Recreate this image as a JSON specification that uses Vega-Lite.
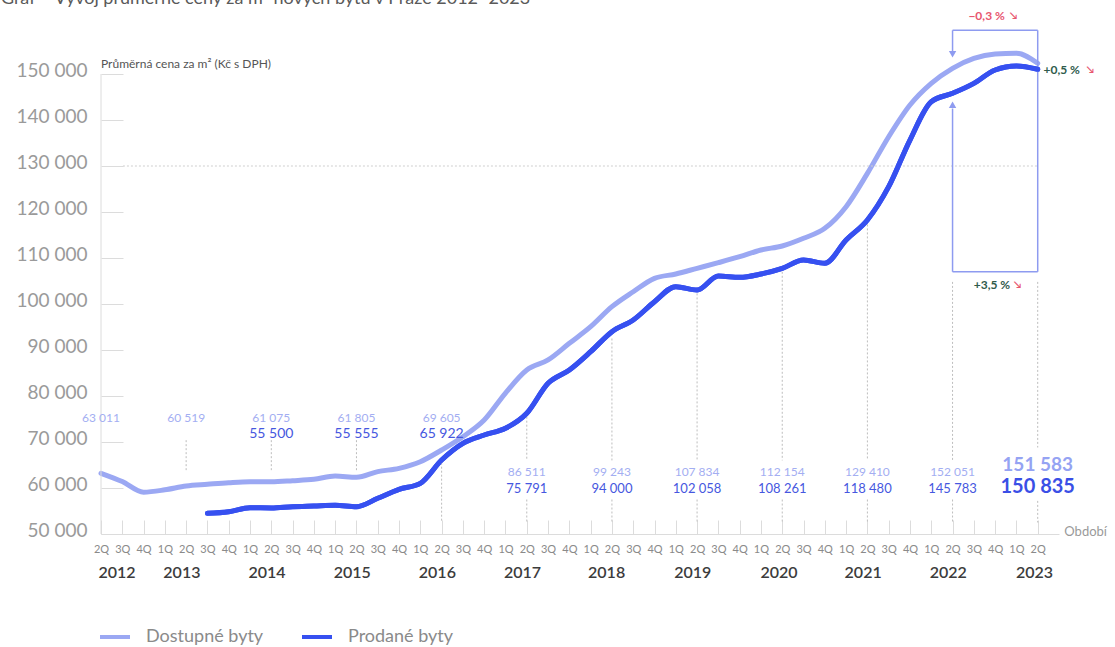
{
  "$schema": "https://vega.github.io/schema/vega-lite/v6.json",
  "width": 958,
  "height": 506,
  "autosize": {"type": "none"},
  "padding": {"left": 101, "top": 28, "right": 56, "bottom": 113},
  "background": "white",
  "config": {"view": {"stroke": null}, "font": "Lato", "axis": {"labelOverlap": false, "labelSeparation": 0}},
  "datasets": {
    "prices": [
      {"i": 0, "series": "Dostupné byty", "value": 63200},
      {"i": 1, "series": "Dostupné byty", "value": 61400},
      {"i": 2, "series": "Dostupné byty", "value": 59100},
      {"i": 3, "series": "Dostupné byty", "value": 59600},
      {"i": 4, "series": "Dostupné byty", "value": 60430},
      {"i": 5, "series": "Dostupné byty", "value": 60800},
      {"i": 6, "series": "Dostupné byty", "value": 61150},
      {"i": 7, "series": "Dostupné byty", "value": 61370},
      {"i": 8, "series": "Dostupné byty", "value": 61370},
      {"i": 9, "series": "Dostupné byty", "value": 61590},
      {"i": 10, "series": "Dostupné byty", "value": 61890},
      {"i": 11, "series": "Dostupné byty", "value": 62600},
      {"i": 12, "series": "Dostupné byty", "value": 62330},
      {"i": 13, "series": "Dostupné byty", "value": 63550},
      {"i": 14, "series": "Dostupné byty", "value": 64280},
      {"i": 15, "series": "Dostupné byty", "value": 65720},
      {"i": 16, "series": "Dostupné byty", "value": 68260},
      {"i": 17, "series": "Dostupné byty", "value": 71150},
      {"i": 18, "series": "Dostupné byty", "value": 74780},
      {"i": 19, "series": "Dostupné byty", "value": 80650},
      {"i": 20, "series": "Dostupné byty", "value": 85650},
      {"i": 21, "series": "Dostupné byty", "value": 87830},
      {"i": 22, "series": "Dostupné byty", "value": 91450},
      {"i": 23, "series": "Dostupné byty", "value": 95070},
      {"i": 24, "series": "Dostupné byty", "value": 99420},
      {"i": 25, "series": "Dostupné byty", "value": 102670},
      {"i": 26, "series": "Dostupné byty", "value": 105580},
      {"i": 27, "series": "Dostupné byty", "value": 106520},
      {"i": 28, "series": "Dostupné byty", "value": 107750},
      {"i": 29, "series": "Dostupné byty", "value": 108980},
      {"i": 30, "series": "Dostupné byty", "value": 110280},
      {"i": 31, "series": "Dostupné byty", "value": 111740},
      {"i": 32, "series": "Dostupné byty", "value": 112610},
      {"i": 33, "series": "Dostupné byty", "value": 114280},
      {"i": 34, "series": "Dostupné byty", "value": 116450},
      {"i": 35, "series": "Dostupné byty", "value": 121160},
      {"i": 36, "series": "Dostupné byty", "value": 128400},
      {"i": 37, "series": "Dostupné byty", "value": 136370},
      {"i": 38, "series": "Dostupné byty", "value": 143260},
      {"i": 39, "series": "Dostupné byty", "value": 147970},
      {"i": 40, "series": "Dostupné byty", "value": 151240},
      {"i": 41, "series": "Dostupné byty", "value": 153400},
      {"i": 42, "series": "Dostupné byty", "value": 154350},
      {"i": 43, "series": "Dostupné byty", "value": 154500},
      {"i": 44, "series": "Dostupné byty", "value": 152330},
      {"i": 5, "series": "Prodané byty", "value": 54500},
      {"i": 6, "series": "Prodané byty", "value": 54850},
      {"i": 7, "series": "Prodané byty", "value": 55720},
      {"i": 8, "series": "Prodané byty", "value": 55650},
      {"i": 9, "series": "Prodané byty", "value": 55940},
      {"i": 10, "series": "Prodané byty", "value": 56090},
      {"i": 11, "series": "Prodané byty", "value": 56240},
      {"i": 12, "series": "Prodané byty", "value": 55940},
      {"i": 13, "series": "Prodané byty", "value": 57760},
      {"i": 14, "series": "Prodané byty", "value": 59720},
      {"i": 15, "series": "Prodané byty", "value": 61020},
      {"i": 16, "series": "Prodané byty", "value": 66090},
      {"i": 17, "series": "Prodané byty", "value": 69720},
      {"i": 18, "series": "Prodané byty", "value": 71520},
      {"i": 19, "series": "Prodané byty", "value": 72980},
      {"i": 20, "series": "Prodané byty", "value": 76240},
      {"i": 21, "series": "Prodané byty", "value": 82760},
      {"i": 22, "series": "Prodané byty", "value": 85650},
      {"i": 23, "series": "Prodané byty", "value": 89630},
      {"i": 24, "series": "Prodané byty", "value": 93980},
      {"i": 25, "series": "Prodané byty", "value": 96520},
      {"i": 26, "series": "Prodané byty", "value": 100500},
      {"i": 27, "series": "Prodané byty", "value": 103760},
      {"i": 28, "series": "Prodané byty", "value": 103040},
      {"i": 29, "series": "Prodané byty", "value": 106090},
      {"i": 30, "series": "Prodané byty", "value": 105800},
      {"i": 31, "series": "Prodané byty", "value": 106520},
      {"i": 32, "series": "Prodané byty", "value": 107750},
      {"i": 33, "series": "Prodané byty", "value": 109570},
      {"i": 34, "series": "Prodané byty", "value": 108850},
      {"i": 35, "series": "Prodané byty", "value": 113910},
      {"i": 36, "series": "Prodané byty", "value": 118260},
      {"i": 37, "series": "Prodané byty", "value": 125500},
      {"i": 38, "series": "Prodané byty", "value": 135650},
      {"i": 39, "series": "Prodané byty", "value": 143980},
      {"i": 40, "series": "Prodané byty", "value": 145800},
      {"i": 41, "series": "Prodané byty", "value": 147970},
      {"i": 42, "series": "Prodané byty", "value": 150870},
      {"i": 43, "series": "Prodané byty", "value": 151740},
      {"i": 44, "series": "Prodané byty", "value": 151020}
    ],
    "labels": [
      {"i": 0, "group": "early", "series": "Dostupné byty", "text": "63 011"},
      {"i": 4, "group": "early", "series": "Dostupné byty", "text": "60 519"},
      {"i": 8, "group": "early", "series": "Dostupné byty", "text": "61 075"},
      {"i": 8, "group": "early", "series": "Prodané byty", "text": "55 500"},
      {"i": 12, "group": "early", "series": "Dostupné byty", "text": "61 805"},
      {"i": 12, "group": "early", "series": "Prodané byty", "text": "55 555"},
      {"i": 16, "group": "early", "series": "Dostupné byty", "text": "69 605"},
      {"i": 16, "group": "early", "series": "Prodané byty", "text": "65 922"},
      {"i": 20, "group": "late", "series": "Dostupné byty", "text": "86 511"},
      {"i": 20, "group": "late", "series": "Prodané byty", "text": "75 791"},
      {"i": 24, "group": "late", "series": "Dostupné byty", "text": "99 243"},
      {"i": 24, "group": "late", "series": "Prodané byty", "text": "94 000"},
      {"i": 28, "group": "late", "series": "Dostupné byty", "text": "107 834"},
      {"i": 28, "group": "late", "series": "Prodané byty", "text": "102 058"},
      {"i": 32, "group": "late", "series": "Dostupné byty", "text": "112 154"},
      {"i": 32, "group": "late", "series": "Prodané byty", "text": "108 261"},
      {"i": 36, "group": "late", "series": "Dostupné byty", "text": "129 410"},
      {"i": 36, "group": "late", "series": "Prodané byty", "text": "118 480"},
      {"i": 40, "group": "late", "series": "Dostupné byty", "text": "152 051"},
      {"i": 40, "group": "late", "series": "Prodané byty", "text": "145 783"},
      {"i": 44, "group": "final", "series": "Dostupné byty", "text": "151 583"},
      {"i": 44, "group": "final", "series": "Prodané byty", "text": "150 835"}
    ],
    "guides": [
      {"i": 4, "top": 70400, "bottom": 63600},
      {"i": 8, "top": 70400, "bottom": 63600},
      {"i": 12, "top": 70400, "bottom": 63600},
      {"i": 16, "top": 65500, "bottom": 52500},
      {"i": 20, "top": 75500, "bottom": 66000},
      {"i": 20, "top": 57500, "bottom": 52500},
      {"i": 24, "top": 92500, "bottom": 66000},
      {"i": 24, "top": 57500, "bottom": 52500},
      {"i": 28, "top": 102300, "bottom": 66000},
      {"i": 28, "top": 57500, "bottom": 52500},
      {"i": 32, "top": 107000, "bottom": 66000},
      {"i": 32, "top": 57500, "bottom": 52500},
      {"i": 36, "top": 117300, "bottom": 66000},
      {"i": 36, "top": 57500, "bottom": 52500},
      {"i": 40, "top": 104800, "bottom": 66000},
      {"i": 40, "top": 57500, "bottom": 52500},
      {"i": 44, "top": 104800, "bottom": 68800},
      {"i": 44, "top": 57200, "bottom": 52500}
    ],
    "years": [
      {"year": "2012", "pos": 0.75},
      {"year": "2013", "pos": 3.8},
      {"year": "2014", "pos": 7.8},
      {"year": "2015", "pos": 11.8},
      {"year": "2016", "pos": 15.8},
      {"year": "2017", "pos": 19.8},
      {"year": "2018", "pos": 23.75},
      {"year": "2019", "pos": 27.8},
      {"year": "2020", "pos": 31.85},
      {"year": "2021", "pos": 35.8},
      {"year": "2022", "pos": 39.8},
      {"year": "2023", "pos": 43.85}
    ],
    "box": [
      {"x": 40, "x2": 44, "y": 159500, "y2": 159500},
      {"x": 40, "x2": 40, "y": 159500, "y2": 155000},
      {"x": 44, "x2": 44, "y": 159500, "y2": 107000},
      {"x": 40, "x2": 44, "y": 107000, "y2": 107000},
      {"x": 40, "x2": 40, "y": 107000, "y2": 142500}
    ],
    "heads": [
      {"x": 40, "y": 154300, "dir": "down"},
      {"x": 40, "y": 143300, "dir": "up"}
    ]
  },
  "layer": [
    {
      "data": {"name": "prices"},
      "mark": {"type": "line", "interpolate": "monotone", "strokeWidth": 5, "strokeCap": "round"},
      "encoding": {
        "x": {
          "field": "i", "type": "quantitative",
          "scale": {"domain": [0, 45], "nice": false, "zero": false},
          "axis": {
            "values": [0,1,2,3,4,5,6,7,8,9,10,11,12,13,14,15,16,17,18,19,20,21,22,23,24,25,26,27,28,29,30,31,32,33,34,35,36,37,38,39,40,41,42,43,44],
            "tickCount": 45,
            "labelExpr": "datum.value > 44 ? '' : ['2Q','3Q','4Q','1Q'][datum.value % 4]",
            "tickOpacity": {"condition": {"test": "datum.value > 44", "value": 0}, "value": 1},
            "tickSize": -14, "tickColor": "#dcdcdc", "domainColor": "#dcdcdc",
            "labelColor": "#8a8a8a", "labelFontSize": 11, "labelPadding": 23,
            "grid": false, "title": null, "labelFlush": false, "labelOverlap": false, "labelSeparation": 0, "labelBound": false
          }
        },
        "y": {
          "field": "value", "type": "quantitative",
          "scale": {"domain": [50000, 160000], "nice": false, "zero": false},
          "axis": {
            "values": [50000, 60000, 70000, 80000, 90000, 100000, 110000, 120000, 130000, 140000, 150000],
            "labelExpr": "replace(format(datum.value, ','), ',', ' ')",
            "tickSize": -22, "tickColor": "#dcdcdc", "domain": false,
            "labelColor": "#9a9a9a", "labelFontSize": 19, "labelPadding": 36, "labelOffset": -4,
            "grid": false, "title": null, "labelOverlap": false
          }
        },
        "color": {
          "field": "series", "type": "nominal",
          "scale": {"domain": ["Dostupné byty", "Prodané byty"], "range": ["#9ba8f3", "#3650f0"]},
          "legend": {
            "orient": "none", "legendX": -3, "legendY": 592, "direction": "horizontal",
            "title": null, "symbolType": "stroke", "symbolSize": 900, "symbolStrokeWidth": 4,
            "labelFontSize": 18, "labelColor": "#8a8a8a", "columnPadding": 30, "labelOffset": 14
          }
        }
      }
    },
    {
      "data": {"values": [{"i": 0, "a": 50000, "b": 150000}]},
      "mark": {"type": "rule", "color": "#dcdcdc", "strokeWidth": 1},
      "encoding": {
        "x": {"field": "i", "type": "quantitative", "scale": {"domain": [0, 45], "nice": false, "zero": false}},
        "y": {"field": "a", "type": "quantitative", "scale": {"domain": [50000, 160000], "nice": false, "zero": false}},
        "y2": {"field": "b"}
      }
    },
    {
      "data": {"values": [{"a": 1.03, "b": 44, "v": 130000}]},
      "mark": {"type": "rule", "color": "#cfcfcf", "strokeWidth": 1, "strokeDash": [2, 2]},
      "encoding": {
        "x": {"field": "a", "type": "quantitative", "scale": {"domain": [0, 45], "nice": false, "zero": false}},
        "x2": {"field": "b"},
        "y": {"field": "v", "type": "quantitative", "scale": {"domain": [50000, 160000], "nice": false, "zero": false}}
      }
    },
    {
      "data": {"name": "guides"},
      "mark": {"type": "rule", "color": "#bdbdbd", "strokeWidth": 1, "strokeDash": [2, 2]},
      "encoding": {
        "x": {"field": "i", "type": "quantitative", "scale": {"domain": [0, 45], "nice": false, "zero": false}},
        "y": {"field": "top", "type": "quantitative", "scale": {"domain": [50000, 160000], "nice": false, "zero": false}},
        "y2": {"field": "bottom"}
      }
    },
    {
      "data": {"name": "box"},
      "mark": {"type": "rule", "color": "#8e9bf0", "strokeWidth": 1.5},
      "encoding": {
        "x": {"field": "x", "type": "quantitative", "scale": {"domain": [0, 45], "nice": false, "zero": false}},
        "x2": {"field": "x2"},
        "y": {"field": "y", "type": "quantitative", "scale": {"domain": [50000, 160000], "nice": false, "zero": false}},
        "y2": {"field": "y2"}
      }
    },
    {
      "data": {"name": "heads"},
      "mark": {"type": "point", "filled": true, "color": "#8e9bf0", "size": 55, "opacity": 1},
      "encoding": {
        "x": {"field": "x", "type": "quantitative", "scale": {"domain": [0, 45], "nice": false, "zero": false}},
        "y": {"field": "y", "type": "quantitative", "scale": {"domain": [50000, 160000], "nice": false, "zero": false}},
        "shape": {"field": "dir", "type": "nominal", "scale": {"domain": ["down", "up"], "range": ["triangle-down", "triangle-up"]}, "legend": null}
      }
    },
    {
      "data": {"name": "prices"},
      "transform": [{"filter": "datum.series === 'Prodané byty'"}],
      "mark": {"type": "line", "interpolate": "monotone", "strokeWidth": 5, "strokeCap": "round", "color": "#3650f0"},
      "encoding": {
        "x": {"field": "i", "type": "quantitative", "scale": {"domain": [0, 45], "nice": false, "zero": false}},
        "y": {"field": "value", "type": "quantitative", "scale": {"domain": [50000, 160000], "nice": false, "zero": false}}
      }
    },
    {
      "data": {"name": "labels"},
      "transform": [{"filter": "datum.group === 'early' && datum.series === 'Dostupné byty'"}],
      "mark": {"type": "text", "fontSize": 12, "color": "#a3aef2", "baseline": "middle"},
      "encoding": {
        "x": {"field": "i", "type": "quantitative", "scale": {"domain": [0, 45], "nice": false, "zero": false}},
        "y": {"datum": 75220, "type": "quantitative", "scale": {"domain": [50000, 160000], "nice": false, "zero": false}},
        "text": {"field": "text"}
      }
    },
    {
      "data": {"name": "labels"},
      "transform": [{"filter": "datum.group === 'early' && datum.series === 'Prodané byty'"}],
      "mark": {"type": "text", "fontSize": 14, "color": "#4657e0", "baseline": "middle"},
      "encoding": {
        "x": {"field": "i", "type": "quantitative", "scale": {"domain": [0, 45], "nice": false, "zero": false}},
        "y": {"datum": 71740, "type": "quantitative", "scale": {"domain": [50000, 160000], "nice": false, "zero": false}},
        "text": {"field": "text"}
      }
    },
    {
      "data": {"name": "labels"},
      "transform": [{"filter": "datum.group === 'late' && datum.series === 'Dostupné byty'"}],
      "mark": {"type": "text", "fontSize": 12, "color": "#a3aef2", "baseline": "middle"},
      "encoding": {
        "x": {"field": "i", "type": "quantitative", "scale": {"domain": [0, 45], "nice": false, "zero": false}},
        "y": {"datum": 63480, "type": "quantitative", "scale": {"domain": [50000, 160000], "nice": false, "zero": false}},
        "text": {"field": "text"}
      }
    },
    {
      "data": {"name": "labels"},
      "transform": [{"filter": "datum.group === 'late' && datum.series === 'Prodané byty'"}],
      "mark": {"type": "text", "fontSize": 13, "color": "#4657e0", "baseline": "middle"},
      "encoding": {
        "x": {"field": "i", "type": "quantitative", "scale": {"domain": [0, 45], "nice": false, "zero": false}},
        "y": {"datum": 59780, "type": "quantitative", "scale": {"domain": [50000, 160000], "nice": false, "zero": false}},
        "text": {"field": "text"}
      }
    },
    {
      "data": {"name": "labels"},
      "transform": [{"filter": "datum.group === 'final' && datum.series === 'Dostupné byty'"}],
      "mark": {"type": "text", "fontSize": 19, "fontWeight": "bold", "color": "#95a3f3", "baseline": "middle"},
      "encoding": {
        "x": {"field": "i", "type": "quantitative", "scale": {"domain": [0, 45], "nice": false, "zero": false}},
        "y": {"datum": 65000, "type": "quantitative", "scale": {"domain": [50000, 160000], "nice": false, "zero": false}},
        "text": {"field": "text"}
      }
    },
    {
      "data": {"name": "labels"},
      "transform": [{"filter": "datum.group === 'final' && datum.series === 'Prodané byty'"}],
      "mark": {"type": "text", "fontSize": 20, "fontWeight": "bold", "color": "#3a4fe6", "baseline": "middle"},
      "encoding": {
        "x": {"field": "i", "type": "quantitative", "scale": {"domain": [0, 45], "nice": false, "zero": false}},
        "y": {"datum": 60220, "type": "quantitative", "scale": {"domain": [50000, 160000], "nice": false, "zero": false}},
        "text": {"field": "text"}
      }
    },
    {
      "data": {"name": "years"},
      "mark": {"type": "text", "fontSize": 16, "fontWeight": 600, "color": "#3c3c3c", "baseline": "middle"},
      "encoding": {
        "x": {"field": "pos", "type": "quantitative", "scale": {"domain": [0, 45], "nice": false, "zero": false}},
        "y": {"datum": 41520, "type": "quantitative", "scale": {"domain": [50000, 160000], "nice": false, "zero": false}},
        "text": {"field": "year"}
      }
    },
    {
      "data": {"values": [{"t": "Období"}]},
      "mark": {"type": "text", "fontSize": 13, "color": "#9a9a9a", "align": "left", "baseline": "middle", "dy": -2},
      "encoding": {
        "x": {"datum": 45.25, "type": "quantitative", "scale": {"domain": [0, 45], "nice": false, "zero": false}},
        "y": {"datum": 50000, "type": "quantitative", "scale": {"domain": [50000, 160000], "nice": false, "zero": false}},
        "text": {"field": "t"}
      }
    },
    {
      "data": {"values": [{"t": "Průměrná cena za m² (Kč s DPH)"}]},
      "mark": {"type": "text", "fontSize": 12, "color": "#555555", "align": "left", "baseline": "middle"},
      "encoding": {
        "x": {"datum": 0, "type": "quantitative", "scale": {"domain": [0, 45], "nice": false, "zero": false}},
        "y": {"datum": 152200, "type": "quantitative", "scale": {"domain": [50000, 160000], "nice": false, "zero": false}},
        "text": {"field": "t"}
      }
    },
    {
      "data": {"values": [{"t": "Graf – Vývoj průměrné ceny za m² nových bytů v Praze 2012–2023"}]},
      "mark": {"type": "text", "fontSize": 18, "color": "#5a5a5a", "align": "left", "baseline": "alphabetic"},
      "encoding": {
        "x": {"datum": -4.7, "type": "quantitative", "scale": {"domain": [0, 45], "nice": false, "zero": false}},
        "y": {"datum": 165200, "type": "quantitative", "scale": {"domain": [50000, 160000], "nice": false, "zero": false}},
        "text": {"field": "t"}
      }
    },
    {
      "data": {"values": [{"t": "−0,3 %"}]},
      "mark": {"type": "text", "fontSize": 12, "fontWeight": "bold", "color": "#e8566f", "align": "center", "baseline": "middle"},
      "encoding": {
        "x": {"datum": 41.6, "type": "quantitative", "scale": {"domain": [0, 45], "nice": false, "zero": false}},
        "y": {"datum": 162600, "type": "quantitative", "scale": {"domain": [50000, 160000], "nice": false, "zero": false}},
        "text": {"field": "t"}
      }
    },
    {
      "data": {"values": [{"t": "+0,5 %"}]},
      "mark": {"type": "text", "fontSize": 12, "fontWeight": "bold", "color": "#2f5b4c", "align": "left", "baseline": "middle"},
      "encoding": {
        "x": {"datum": 44.27, "type": "quantitative", "scale": {"domain": [0, 45], "nice": false, "zero": false}},
        "y": {"datum": 150870, "type": "quantitative", "scale": {"domain": [50000, 160000], "nice": false, "zero": false}},
        "text": {"field": "t"}
      }
    },
    {
      "data": {"values": [{"t": "+3,5 %"}]},
      "mark": {"type": "text", "fontSize": 12, "fontWeight": "bold", "color": "#2f5b4c", "align": "center", "baseline": "middle"},
      "encoding": {
        "x": {"datum": 41.85, "type": "quantitative", "scale": {"domain": [0, 45], "nice": false, "zero": false}},
        "y": {"datum": 104130, "type": "quantitative", "scale": {"domain": [50000, 160000], "nice": false, "zero": false}},
        "text": {"field": "t"}
      }
    },
    {
      "data": {"values": [{"x": 42.86, "y": 162600}, {"x": 46.47, "y": 150870}, {"x": 43.05, "y": 104130}]},
      "mark": {"type": "text", "fontSize": 10, "fontWeight": "bold", "color": "#e8566f", "align": "center", "baseline": "middle", "text": "↘"},
      "encoding": {
        "x": {"field": "x", "type": "quantitative", "scale": {"domain": [0, 45], "nice": false, "zero": false}},
        "y": {"field": "y", "type": "quantitative", "scale": {"domain": [50000, 160000], "nice": false, "zero": false}}
      }
    }
  ]
}
